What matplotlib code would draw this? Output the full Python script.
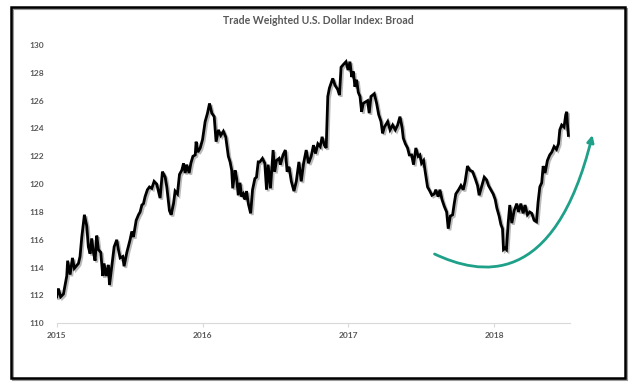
import matplotlib
matplotlib.use("Agg")
import matplotlib.pyplot as plt
import matplotlib.patheffects as pe
from matplotlib.patches import Rectangle, FancyArrowPatch
from matplotlib.path import Path

plt.rcParams['font.family'] = ['Lato', 'DejaVu Sans']

# years since start of 2015
year_offset = [
    0.000, 0.011, 0.027, 0.046, 0.069, 0.075, 0.092, 0.108, 0.121, 0.149,
    0.160, 0.172, 0.190, 0.206, 0.217, 0.229, 0.240, 0.252, 0.263, 0.275,
    0.286, 0.302, 0.316, 0.325, 0.339, 0.355, 0.362, 0.378, 0.394, 0.412,
    0.423, 0.435, 0.453, 0.462, 0.481, 0.503, 0.515, 0.526, 0.545, 0.561,
    0.572, 0.584, 0.595, 0.606, 0.622, 0.636, 0.652, 0.668, 0.686, 0.709,
    0.725, 0.744, 0.755, 0.773, 0.785, 0.801, 0.812, 0.828, 0.842, 0.858,
    0.870, 0.881, 0.892, 0.908, 0.920, 0.934, 0.950, 0.956, 0.968, 0.984,
    1.000, 1.018, 1.034, 1.048, 1.064, 1.080, 1.093, 1.109, 1.125, 1.143,
    1.159, 1.177, 1.189, 1.200, 1.207, 1.223, 1.234, 1.245, 1.257, 1.268,
    1.280, 1.291, 1.302, 1.314, 1.330, 1.343, 1.359, 1.370, 1.382, 1.393,
    1.411, 1.427, 1.439, 1.450, 1.466, 1.484, 1.495, 1.507, 1.525, 1.534,
    1.552, 1.568, 1.580, 1.593, 1.609, 1.627, 1.643, 1.661, 1.677, 1.693,
    1.711, 1.727, 1.745, 1.761, 1.775, 1.791, 1.807, 1.820, 1.836, 1.848,
    1.859, 1.870, 1.893, 1.909, 1.927, 1.939, 1.950, 1.966, 1.984, 1.998,
    2.011, 2.023, 2.034, 2.045, 2.057, 2.068, 2.080, 2.091, 2.102, 2.116,
    2.132, 2.143, 2.155, 2.178, 2.194, 2.208, 2.224, 2.235, 2.247, 2.270,
    2.286, 2.304, 2.322, 2.338, 2.354, 2.368, 2.377, 2.391, 2.406, 2.418,
    2.434, 2.447, 2.463, 2.479, 2.491, 2.502, 2.516, 2.527, 2.543, 2.559,
    2.573, 2.589, 2.600, 2.616, 2.628, 2.642, 2.658, 2.674, 2.685, 2.699,
    2.715, 2.726, 2.737, 2.756, 2.772, 2.788, 2.801, 2.817, 2.833, 2.852,
    2.870, 2.886, 2.897, 2.913, 2.932, 2.948, 2.961, 2.977, 2.993, 3.007,
    3.018, 3.034, 3.046, 3.057, 3.064, 3.075, 3.084, 3.096, 3.107, 3.121,
    3.137, 3.155, 3.167, 3.183, 3.199, 3.212, 3.228, 3.244, 3.258, 3.274,
    3.290, 3.301, 3.313, 3.326, 3.336, 3.349, 3.365, 3.381, 3.395, 3.411,
    3.427, 3.441, 3.450, 3.463, 3.479, 3.491, 3.498, 3.502, 3.509,
]

index_vals = [
    111.9, 112.5, 111.9, 112.1, 113.4, 114.5, 113.5, 114.7, 113.95, 114.3,
    114.8, 116.2, 117.8, 117.0, 115.5, 115.0, 116.1, 115.1, 114.5, 116.3,
    115.3, 115.1, 113.4, 114.3, 113.4, 114.2, 112.75, 114.1, 115.5, 116.0,
    115.3, 114.7, 114.8, 114.1, 115.1, 116.0, 116.6, 116.2, 117.4, 117.8,
    118.0, 118.5, 118.6, 119.1, 119.6, 119.8, 119.7, 120.2, 120.0, 119.0,
    120.9, 120.5, 119.8, 118.1, 117.8, 118.6, 119.5, 119.3, 120.7, 121.0,
    121.5, 120.8, 121.4, 120.8, 121.5, 122.0, 122.1, 123.05, 122.3, 122.6,
    123.2, 124.5, 125.1, 125.8, 125.1, 124.85, 123.05, 123.9, 123.5, 123.8,
    123.4, 122.0, 121.6, 121.0, 119.7, 121.0, 120.4, 119.2, 120.1, 119.1,
    119.3, 118.9, 119.5, 118.6, 117.9, 119.6, 120.4, 120.5, 121.6, 121.6,
    121.85, 121.5, 119.6, 121.4, 119.7, 122.45, 120.9, 121.7, 121.85, 121.4,
    122.1, 122.45, 120.9, 121.25, 120.2, 119.5, 120.2, 121.6, 120.2, 121.5,
    122.45, 121.5, 122.0, 122.8, 122.2, 122.9, 122.7, 123.4, 122.8, 122.6,
    126.3, 126.9, 127.6, 127.1, 126.8, 126.4, 128.4, 128.6, 128.8, 128.2,
    128.8, 127.7, 128.1, 127.0, 127.5, 126.6, 126.3, 125.2, 125.8, 125.9,
    126.0, 125.1, 126.3, 126.5, 125.8, 125.0, 124.5, 123.65, 124.1, 124.5,
    123.9, 124.25, 123.9, 124.25, 124.85, 124.1, 123.3, 122.9, 122.6, 122.1,
    122.1, 121.4, 122.6, 122.0, 122.1, 121.5, 121.7, 120.9, 119.8, 119.5,
    119.2, 119.3, 119.6, 119.1, 119.6, 118.9, 118.4, 118.0, 116.8, 117.7,
    117.8, 118.6, 119.3, 119.6, 119.9, 119.6, 120.2, 121.3, 121.0, 120.9,
    120.4, 119.9, 119.2, 119.8, 120.5, 120.3, 119.9, 119.6, 119.3, 118.9,
    118.3, 117.7, 117.1, 116.8, 115.3, 115.4, 115.3, 117.2, 118.5, 117.2,
    118.1, 118.6, 118.0, 118.6, 117.9, 118.5, 117.8, 118.0, 117.9, 117.4,
    117.3, 118.7, 119.8, 120.1, 121.3, 120.8, 121.7, 122.1, 122.3, 122.7,
    122.5, 122.9, 123.9, 124.25, 124.1, 125.0, 125.2, 124.4, 123.5,
]

year_ticks = [2015, 2016, 2017, 2018]
y_ticks = [110, 112, 114, 116, 118, 120, 122, 124, 126, 128, 130]

# hand-drawn trend arrow (bezier control points, data coords)
arrow_x = [2017.591, 2017.899, 2018.413, 2018.674]
arrow_y = [114.98, 113.47, 112.39, 123.53]

years = [2015 + t for t in year_offset]

fig = plt.figure(figsize=(6.4, 3.92), dpi=100)
W, H = 640, 392

# frame with a small shadow
fig.patches.append(Rectangle((13 / W, 1 - 380 / H), 614 / W, 371 / H, transform=fig.transFigure,
                             fill=False, edgecolor='#9a9a9a', linewidth=1.5, zorder=0))
fig.patches.append(Rectangle((11 / W, 1 - 378 / H), 614 / W, 371 / H, transform=fig.transFigure,
                             fill=False, edgecolor='black', linewidth=1.8, zorder=1))

ax = fig.add_axes([56.7 / W, 1 - 323.3 / H, (570 - 56.7) / W, (323.3 - 45) / H])
ax.plot(years, index_vals, color='black', linewidth=2.0, solid_joinstyle='miter',
        path_effects=[pe.SimpleLineShadow(offset=(1.2, -1.2), shadow_color='#777777', alpha=0.5),
                      pe.Normal()])

ax.set_xlim(2015, 2018.52)
ax.set_ylim(110, 130)
ax.set_xticks(year_ticks)
ax.set_xticklabels([str(y) for y in year_ticks])
ax.set_yticks(y_ticks)
for s in ['top', 'right', 'left']:
    ax.spines[s].set_visible(False)
ax.spines['bottom'].set_color('#d9d9d9')
ax.spines['bottom'].set_linewidth(0.8)
ax.tick_params(axis='x', length=3, color='#d9d9d9', labelsize=6, labelcolor='#595959', pad=3)
ax.tick_params(axis='y', length=0, labelsize=6, labelcolor='#595959', pad=9)
for lab in ax.get_xticklabels() + ax.get_yticklabels():
    lab.set_fontweight('bold')

verts = list(zip(arrow_x, arrow_y))
arrow = FancyArrowPatch(path=Path(verts, [Path.MOVETO, Path.CURVE4, Path.CURVE4, Path.CURVE4]),
                        arrowstyle='-|>,head_length=4,head_width=2', color='#1fa088',
                        linewidth=2.0, transform=ax.transData, clip_on=False)
ax.add_patch(arrow)

fig.text(318 / W, 1 - 20 / H, 'Trade Weighted U.S. Dollar Index: Broad', ha='center', va='center',
         fontsize=7.6, fontweight='bold', color='#595959')

fig.savefig('out.png', dpi=100)
